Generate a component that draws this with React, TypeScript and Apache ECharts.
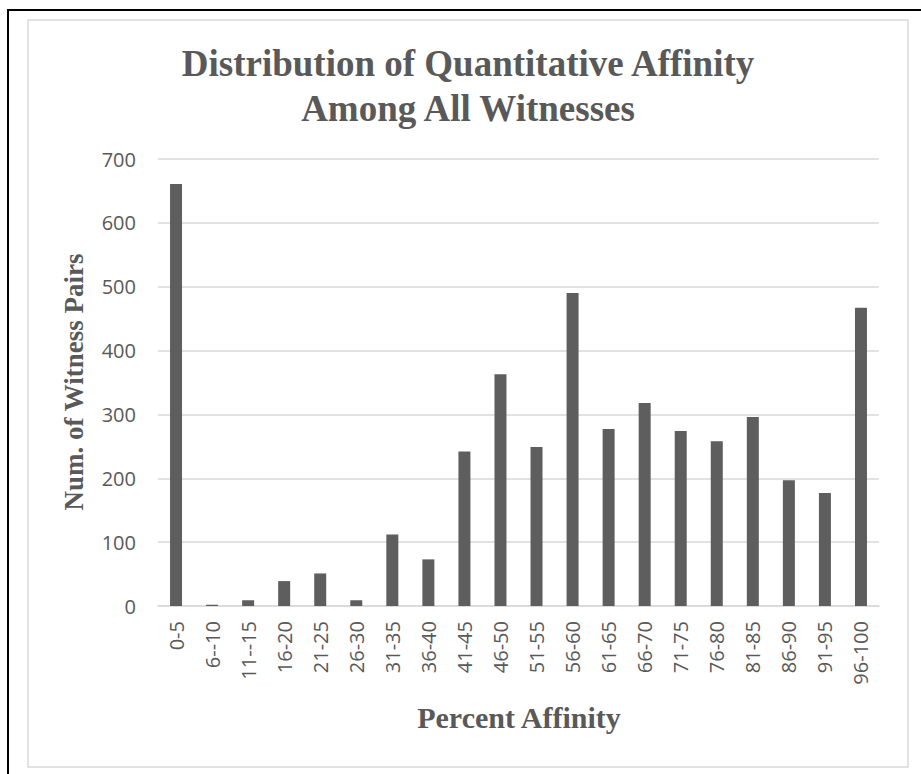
import React, { useEffect, useRef } from "react";
import * as echarts from "echarts";

const categories = [
  "0-5", "6--10", "11--15", "16-20", "21-25", "26-30", "31-35", "36-40", "41-45", "46-50",
  "51-55", "56-60", "61-65", "66-70", "71-75", "76-80", "81-85", "86-90", "91-95", "96-100",
];
const pairCounts = [
  661, 2, 9, 39, 51, 9, 112, 73, 242, 363,
  249, 490, 277, 318, 274, 258, 296, 197, 177, 467,
];
const yTicks = { min: 0, max: 700, interval: 100 };
const titleLines = ["Distribution of Quantitative Affinity", "Among All Witnesses"];
const yTitle = "Num. of Witness Pairs";
const xTitle = "Percent Affinity";

const GRAY = "#595959";
const LIGHT = "#d9d9d9";
const SERIF = "'Liberation Serif', 'Times New Roman', serif";
const SANS = "'Open Sans', 'Noto Sans', sans-serif";

export default function App() {
  const ref = useRef<HTMLDivElement>(null);
  useEffect(() => {
    if (!ref.current) return;
    const chart = echarts.init(ref.current, undefined, { renderer: "svg" });
    chart.setOption({
      animation: false,
      backgroundColor: "#ffffff",
      grid: { left: 158, right: 42, top: 159, bottom: 168, containLabel: false },
      xAxis: {
        type: "category",
        data: categories,
        axisTick: { show: false },
        axisLine: { lineStyle: { color: LIGHT, width: 1.5 } },
        axisLabel: {
          rotate: 90,
          interval: 0,
          margin: 15,
          fontSize: 20,
          fontFamily: SANS,
          color: GRAY,
        },
      },
      yAxis: {
        type: "value",
        min: yTicks.min,
        max: yTicks.max,
        interval: yTicks.interval,
        axisLine: { show: false },
        axisTick: { show: false },
        splitLine: { lineStyle: { color: LIGHT, width: 1.5 } },
        axisLabel: { margin: 22, fontSize: 20, fontFamily: SANS, color: GRAY },
      },
      series: [
        {
          type: "bar",
          data: pairCounts,
          barWidth: 12,
          itemStyle: { color: "#5e5e5e" },
        },
      ],
      graphic: [
        {
          type: "line",
          shape: { x1: 7, y1: 10, x2: 921, y2: 10 },
          style: { stroke: "#000000", lineWidth: 2 },
          silent: true,
        },
        {
          type: "line",
          shape: { x1: 8, y1: 9, x2: 8, y2: 774 },
          style: { stroke: "#000000", lineWidth: 2 },
          silent: true,
        },
        {
          type: "rect",
          shape: { x: 28, y: 20, width: 880, height: 747 },
          style: { fill: "none", stroke: LIGHT, lineWidth: 1.5 },
          silent: true,
        },
        {
          type: "text",
          x: 468,
          y: 63,
          style: {
            text: titleLines[0],
            align: "center",
            verticalAlign: "middle",
            fontSize: 37,
            fontWeight: "bold",
            fontFamily: SERIF,
            fill: GRAY,
          },
        },
        {
          type: "text",
          x: 468,
          y: 108,
          style: {
            text: titleLines[1],
            align: "center",
            verticalAlign: "middle",
            fontSize: 37,
            fontWeight: "bold",
            fontFamily: SERIF,
            fill: GRAY,
          },
        },
        {
          type: "text",
          x: 74,
          y: 382,
          rotation: Math.PI / 2,
          style: {
            text: yTitle,
            align: "center",
            verticalAlign: "middle",
            fontSize: 27,
            fontWeight: "bold",
            fontFamily: SERIF,
            fill: GRAY,
          },
        },
        {
          type: "text",
          x: 519,
          y: 717,
          style: {
            text: xTitle,
            align: "center",
            verticalAlign: "middle",
            fontSize: 30,
            fontWeight: "bold",
            fontFamily: SERIF,
            fill: GRAY,
          },
        },
      ],
    });
    return () => chart.dispose();
  }, []);
  return (
    <div
      ref={ref}
      style={{ position: "absolute", left: 0, top: 0, width: 921, height: 774 }}
    />
  );
}
